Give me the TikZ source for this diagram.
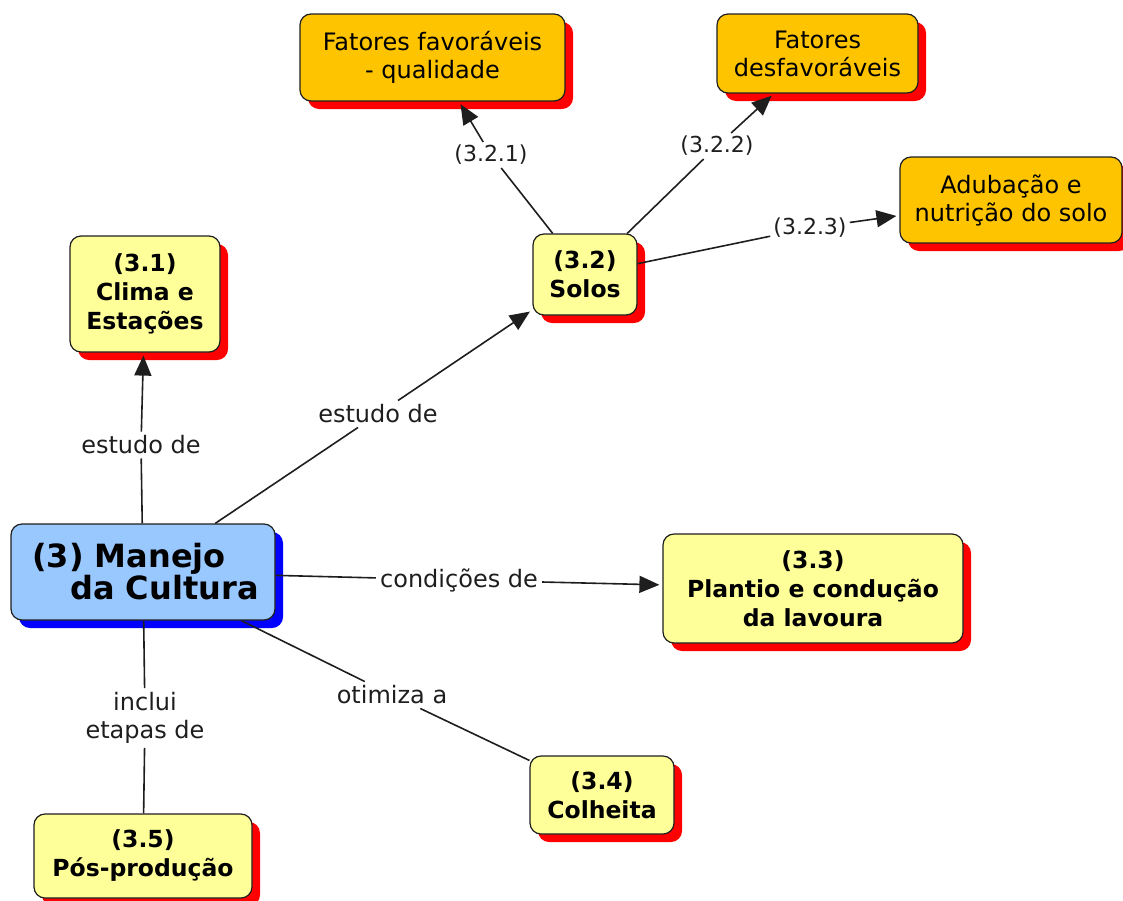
\documentclass[tikz,border=0pt]{standalone}
\usepackage{fontspec}
\setmainfont{DejaVu Sans}
\usetikzlibrary{shadows,arrows.meta}
\definecolor{conceptyellow}{HTML}{FFFF99}
\definecolor{factororange}{HTML}{FFC400}
\definecolor{rootblue}{HTML}{99C8FF}
\definecolor{inkgray}{HTML}{1E1E1E}
\begin{document}
\begin{tikzpicture}[x=1pt,y=-1pt,
  box/.style={draw=inkgray, line width=1.2pt, rounded corners=11pt, inner sep=0pt,
    align=center, text=black},
  redshadow/.style={drop shadow={shadow xshift=8pt, shadow yshift=-8pt, fill=red, opacity=1}},
  concept/.style={box, redshadow, fill=conceptyellow, font=\fontsize{23.5}{29}\selectfont\bfseries},
  factor/.style={box, redshadow, fill=factororange, font=\fontsize{24}{28}\selectfont},
  root/.style={box, fill=rootblue, align=left, font=\fontsize{32}{32}\selectfont\bfseries,
    drop shadow={shadow xshift=8pt, shadow yshift=-8pt, fill=blue, opacity=1}},
  linklabel/.style={inner sep=4pt, align=center, text=inkgray, font=\fontsize{24}{28}\selectfont},
  sublabel/.style={inner sep=3pt, align=center, text=inkgray, font=\fontsize{22}{26}\selectfont},
  conn/.style={draw=inkgray, line width=1.6pt},
  arr/.style={conn, -{Triangle[length=20pt,width=17pt]}, shorten >=3pt}
]
\useasboundingbox (0,0) rectangle (1123,900);

% concept boxes
\node[root, minimum width=264pt, minimum height=96pt] (main) at (143,572)
  {\hspace*{5pt}(3) Manejo\\\hspace*{43pt}da Cultura};
\node[concept, minimum width=150pt, minimum height=116pt] (clima) at (145,294)
  {(3.1)\\Clima e\\Estações};
\node[concept, minimum width=104pt, minimum height=81pt] (solos) at (585,274.5)
  {(3.2)\\Solos};
\node[concept, minimum width=300pt, minimum height=109pt] (plantio) at (813,588.5)
  {(3.3)\\Plantio e condução\\da lavoura};
\node[concept, minimum width=144pt, minimum height=78pt] (colheita) at (602,795)
  {(3.4)\\Colheita};
\node[concept, minimum width=218pt, minimum height=84pt] (pos) at (143,856)
  {(3.5)\\Pós-produção};

% soil factor boxes
\node[factor, minimum width=265pt, minimum height=87pt] (fav) at (432.5,57.5)
  {Fatores favoráveis\\- qualidade};
\node[factor, minimum width=201pt, minimum height=79pt] (desf) at (817.5,53.5)
  {Fatores\\desfavoráveis};
\node[factor, minimum width=222pt, minimum height=86pt] (adub) at (1011,200)
  {Adubação e\\nutrição do solo};

% link phrases
\node[linklabel] (l1) at (141,445) {estudo de};
\node[linklabel] (l2) at (378,414) {estudo de};
\node[linklabel] (l3) at (459,580) {condições de};
\node[linklabel] (l4) at (392,695) {otimiza a};
\node[linklabel] (l5) at (145,718) {inclui\\etapas de};
\node[sublabel] (l6) at (491,155) {(3.2.1)};
\node[sublabel] (l7) at (717,146) {(3.2.2)};
\node[sublabel] (l8) at (810,228) {(3.2.3)};

% connectors
\draw[conn] (main) -- (l1);
\draw[arr] (l1) -- (clima);
\draw[conn] (main) -- (l2);
\draw[arr] (l2) -- (solos);
\draw[conn] (main) -- (l3);
\draw[arr] (l3) -- (plantio);
\draw[conn] (main) -- (l4);
\draw[conn] (l4) -- (colheita);
\draw[conn] (main) -- (l5);
\draw[conn] (l5) -- (pos);
\draw[conn] (solos) -- (l6);
\draw[arr] (l6) -- (fav);
\draw[conn] (solos) -- (l7);
\draw[arr] (l7) -- (desf);
\draw[conn] (solos) -- (l8);
\draw[arr] (l8) -- (adub);
\end{tikzpicture}
\end{document}
